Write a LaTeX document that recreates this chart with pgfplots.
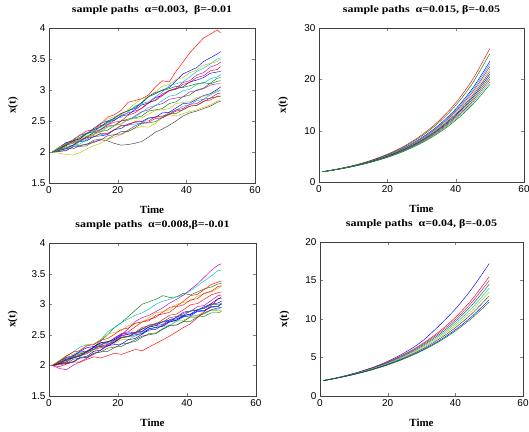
\documentclass[border=0pt]{standalone}
\usepackage{fontspec}
\setmainfont{Liberation Serif}
\newfontfamily\arialf{Liberation Sans}
\usepackage{graphicx}
\usepackage{pgfplots}
\usepackage{pgfplotstable}
\pgfplotsset{compat=1.18}
\definecolor{mb}{rgb}{0,0,1}
\definecolor{mg}{rgb}{0,0.5,0}
\definecolor{mr}{rgb}{1,0,0}
\definecolor{mc}{rgb}{0,0.75,0.75}
\definecolor{mm}{rgb}{0.75,0,0.75}
\definecolor{my}{rgb}{0.75,0.75,0}
\definecolor{mk}{rgb}{0.25,0.25,0.25}

\pgfplotstableread{
t A B C D E F G H I J K L M N O P Q R S
1 2.00 2.00 2.00 2.00 2.00 2.00 2.00 2.00 2.00 2.00 2.00 2.00 2.00 2.00 2.00 2.00 2.00 2.00 2.00
3 2.08 2.05 2.02 1.98 2.01 2.06 2.08 2.02 2.06 2.05 2.04 2.01 2.08 2.03 2.05 2.03 2.06 2.04 2.07
5 2.10 2.12 2.06 1.96 2.02 2.12 2.15 2.09 2.15 2.07 2.14 2.03 2.11 2.05 2.11 2.11 2.13 2.06 2.13
7 2.20 2.18 2.05 1.95 2.09 2.18 2.19 2.11 2.18 2.11 2.16 2.08 2.19 2.11 2.17 2.14 2.15 2.09 2.14
9 2.27 2.22 2.10 1.99 2.11 2.24 2.27 2.13 2.21 2.20 2.20 2.09 2.28 2.17 2.18 2.17 2.18 2.17 2.20
11 2.30 2.30 2.13 2.05 2.12 2.30 2.34 2.20 2.30 2.23 2.29 2.10 2.31 2.18 2.23 2.25 2.25 2.21 2.26
13 2.38 2.36 2.15 2.10 2.19 2.36 2.36 2.27 2.33 2.32 2.33 2.17 2.35 2.25 2.24 2.31 2.28 2.29 2.28
15 2.46 2.45 2.20 2.14 2.21 2.40 2.43 2.28 2.41 2.36 2.37 2.19 2.44 2.26 2.30 2.33 2.36 2.32 2.34
17 2.50 2.56 2.18 2.20 2.21 2.47 2.44 2.29 2.49 2.44 2.45 2.26 2.53 2.28 2.30 2.35 2.42 2.40 2.41
19 2.54 2.60 2.14 2.24 2.27 2.55 2.51 2.35 2.51 2.48 2.53 2.28 2.57 2.36 2.36 2.42 2.43 2.43 2.43
21 2.62 2.67 2.11 2.28 2.33 2.62 2.59 2.42 2.58 2.50 2.56 2.29 2.60 2.38 2.43 2.50 2.50 2.45 2.45
23 2.67 2.80 2.12 2.33 2.33 2.66 2.63 2.44 2.60 2.59 2.64 2.35 2.68 2.45 2.43 2.53 2.51 2.53 2.52
25 2.70 2.83 2.14 2.38 2.39 2.72 2.66 2.45 2.68 2.63 2.74 2.42 2.78 2.48 2.49 2.55 2.58 2.56 2.54
27 2.79 2.86 2.17 2.41 2.46 2.80 2.70 2.47 2.76 2.71 2.78 2.47 2.86 2.49 2.50 2.58 2.65 2.64 2.55
29 2.89 2.92 2.24 2.40 2.47 2.90 2.79 2.54 2.79 2.80 2.81 2.48 2.89 2.55 2.50 2.66 2.68 2.72 2.61
31 2.94 3.05 2.32 2.46 2.49 2.96 2.84 2.56 2.88 2.83 2.89 2.54 2.97 2.56 2.57 2.68 2.75 2.75 2.67
33 3.00 3.15 2.37 2.55 2.56 2.99 2.94 2.57 2.91 2.91 2.97 2.55 3.06 2.63 2.58 2.70 2.78 2.83 2.68
35 3.04 3.13 2.43 2.60 2.62 3.02 2.99 2.64 2.99 2.99 3.07 2.61 3.09 2.64 2.60 2.78 2.85 2.90 2.70
37 3.15 3.30 2.50 2.58 2.62 3.06 3.03 2.67 3.02 3.01 3.10 2.68 3.17 2.71 2.66 2.81 2.87 2.92 2.78
39 3.26 3.45 2.58 2.62 2.68 3.04 3.12 2.74 3.05 3.09 3.13 2.70 3.20 2.78 2.68 2.89 2.89 2.99 2.80
41 3.31 3.60 2.63 2.65 2.74 3.07 3.15 2.76 3.13 3.12 3.21 2.77 3.28 2.79 2.74 2.92 2.97 3.01 2.81
43 3.36 3.72 2.66 2.68 2.75 3.10 3.24 2.83 3.16 3.20 3.30 2.78 3.32 2.85 2.75 3.00 2.99 3.09 2.88
45 3.46 3.84 2.70 2.72 2.81 3.12 3.28 2.85 3.20 3.23 3.35 2.85 3.40 2.91 2.82 3.03 3.02 3.11 2.90
47 3.52 3.90 2.74 2.76 2.87 3.10 3.37 2.92 3.27 3.31 3.42 2.87 3.43 2.94 2.84 3.11 3.08 3.18 2.92
49 3.58 3.97 2.80 2.82 2.89 3.14 3.41 2.99 3.29 3.33 3.50 2.94 3.46 3.01 2.90 3.19 3.10 3.21 2.97
50 3.62 3.92 2.82 2.84 2.90 3.15 3.45 3.00 3.30 3.38 3.52 2.95 3.50 3.05 2.90 3.20 3.10 3.25 3.00
}\TL

\pgfplotstableread{
t a b c d e f g h i j k l m n T U V W
1 2.00 2.00 2.00 2.00 2.00 2.00 2.00 2.00 2.00 2.00 2.00 2.00 2.00 2.00 2.00 2.00 2.00 2.00
3 2.03 2.08 1.95 2.06 2.03 2.05 2.03 2.06 2.03 2.01 2.07 1.98 2.03 2.08 2.02 2.03 2.05 2.06
5 2.08 2.15 1.93 2.08 2.06 2.11 2.03 2.07 2.10 2.03 2.13 2.02 2.04 2.16 2.05 2.10 2.12 2.15
7 2.12 2.22 2.00 2.16 2.15 2.13 2.05 2.15 2.13 2.10 2.16 2.06 2.06 2.18 2.13 2.12 2.14 2.22
9 2.18 2.30 2.06 2.22 2.19 2.15 2.12 2.21 2.16 2.12 2.23 2.05 2.13 2.25 2.16 2.15 2.16 2.24
11 2.22 2.34 2.12 2.23 2.22 2.21 2.13 2.21 2.24 2.13 2.29 2.10 2.15 2.33 2.19 2.22 2.23 2.32
13 2.30 2.35 2.18 2.30 2.31 2.23 2.20 2.27 2.30 2.20 2.31 2.14 2.23 2.35 2.26 2.29 2.26 2.34
15 2.40 2.42 2.25 2.37 2.35 2.30 2.22 2.34 2.32 2.22 2.37 2.12 2.25 2.42 2.29 2.31 2.33 2.41
17 2.50 2.55 2.34 2.39 2.37 2.35 2.28 2.36 2.34 2.23 2.38 2.16 2.32 2.51 2.31 2.32 2.39 2.44
19 2.62 2.62 2.42 2.42 2.45 2.36 2.30 2.38 2.40 2.29 2.44 2.20 2.34 2.54 2.38 2.38 2.40 2.51
21 2.70 2.70 2.50 2.49 2.52 2.42 2.31 2.45 2.48 2.35 2.51 2.18 2.35 2.57 2.45 2.46 2.46 2.59
23 2.80 2.76 2.60 2.51 2.55 2.42 2.37 2.47 2.51 2.36 2.53 2.22 2.42 2.65 2.47 2.48 2.47 2.61
25 2.90 2.82 2.72 2.53 2.63 2.48 2.39 2.48 2.52 2.42 2.54 2.26 2.44 2.69 2.54 2.50 2.53 2.69
27 3.00 2.86 2.78 2.59 2.71 2.55 2.46 2.53 2.55 2.48 2.56 2.24 2.51 2.71 2.62 2.52 2.60 2.71
29 3.04 2.92 2.82 2.66 2.75 2.56 2.52 2.60 2.63 2.50 2.63 2.30 2.58 2.78 2.65 2.60 2.62 2.73
31 3.08 3.00 2.88 2.68 2.79 2.63 2.53 2.62 2.65 2.52 2.65 2.36 2.59 2.86 2.67 2.62 2.69 2.82
33 3.14 3.05 2.94 2.71 2.87 2.65 2.60 2.64 2.67 2.59 2.72 2.42 2.66 2.88 2.75 2.64 2.71 2.84
35 3.11 3.08 3.02 2.72 2.95 2.72 2.66 2.65 2.75 2.65 2.74 2.48 2.72 2.91 2.82 2.71 2.78 2.87
37 3.12 3.12 3.08 2.79 2.97 2.72 2.66 2.72 2.78 2.66 2.76 2.55 2.74 3.00 2.84 2.74 2.80 2.96
39 3.18 3.15 3.15 2.87 3.05 2.74 2.72 2.79 2.85 2.72 2.82 2.62 2.80 3.03 2.91 2.81 2.82 2.99
41 3.15 3.22 3.24 2.89 3.14 2.80 2.72 2.81 2.88 2.79 2.83 2.68 2.81 3.05 2.99 2.84 2.89 3.07
43 3.20 3.30 3.33 2.90 3.16 2.82 2.79 2.81 2.96 2.79 2.89 2.78 2.88 3.13 3.01 2.91 2.91 3.09
45 3.25 3.38 3.44 2.96 3.24 2.84 2.80 2.87 2.98 2.85 2.90 2.88 2.89 3.17 3.08 2.94 2.93 3.18
47 3.28 3.46 3.55 3.00 3.32 2.90 2.86 2.90 3.06 2.91 2.96 2.98 2.95 3.20 3.15 3.01 2.99 3.21
49 3.33 3.55 3.64 3.02 3.36 2.90 2.86 2.92 3.14 2.94 2.97 3.08 2.96 3.26 3.19 3.09 3.00 3.29
50 3.34 3.56 3.66 3.05 3.38 2.90 2.88 2.95 3.15 2.95 3.00 3.12 3.02 3.30 3.20 3.10 3.00 3.30
}\BL

\pgfplotstableread{
t p1 p2 p3 p4 p5 p6 p7 p8 p9 p10 p11 p12
1 2 2 2 2 2 2 2 2 2 2 2 2
5 2.47 2.46 2.45 2.44 2.44 2.43 2.43 2.42 2.42 2.41 2.41 2.40
10 3.20 3.18 3.14 3.13 3.12 3.11 3.09 3.08 3.07 3.05 3.04 3.02
15 4.16 4.12 4.04 4.02 3.99 3.97 3.94 3.92 3.89 3.86 3.83 3.81
20 5.41 5.33 5.20 5.16 5.11 5.07 5.02 4.98 4.93 4.88 4.84 4.79
25 7.02 6.89 6.69 6.62 6.54 6.47 6.40 6.33 6.25 6.18 6.10 6.02
30 9.13 8.92 8.60 8.49 8.38 8.27 8.16 8.04 7.93 7.81 7.70 7.58
35 11.86 11.54 11.05 10.89 10.73 10.56 10.39 10.22 10.05 9.88 9.71 9.54
40 15.40 14.93 14.21 13.97 13.73 13.49 13.24 13.00 12.75 12.50 12.25 12.00
45 20.01 19.32 18.28 17.93 17.58 17.23 16.87 16.52 16.17 15.81 15.46 15.10
50 26 25 23.5 23 22.5 22 21.5 21 20.5 20 19.5 19
}\TR

\pgfplotstableread{
t q1 q2 q3 q4 q5 q6 q7 q8 q9
1 2 2 2 2 2 2 2 2 2
5 2.37 2.36 2.36 2.35 2.34 2.34 2.33 2.32 2.32
10 2.93 2.91 2.90 2.88 2.86 2.84 2.82 2.80 2.79
15 3.62 3.59 3.56 3.52 3.49 3.45 3.41 3.38 3.35
20 4.50 4.42 4.37 4.31 4.25 4.19 4.13 4.07 4.03
25 5.62 5.45 5.37 5.28 5.19 5.10 5.00 4.91 4.85
30 7.05 6.72 6.59 6.46 6.33 6.19 6.05 5.92 5.83
35 9.05 8.28 8.10 7.91 7.72 7.52 7.33 7.13 7.01
40 11.30 10.21 9.94 9.68 9.41 9.14 8.87 8.60 8.44
45 14.00 12.58 12.21 11.85 11.48 11.11 10.74 10.37 10.15
50 17.2 15.5 15 14.5 14 13.5 13 12.5 12.2
}\BR

\newcommand{\ttl}[1]{\scalebox{1.2}[1]{#1}}

\pgfplotsset{
 mstyle/.style={
  scale only axis, anchor=south west,
  xmin=0, xmax=60, xtick={0,20,40,60},
  tick align=inside, major tick length=3bp,
  tick label style={font=\arialf\fontsize{10}{12}\selectfont},
  /pgf/number format/assume math mode=true,
  title style={font=\bfseries\fontsize{10}{12}\selectfont, at={(axis description cs:0.5,1)}, anchor=south, yshift=4bp},
  xlabel={Time}, ylabel={x(t)},
  xlabel style={font=\bfseries\fontsize{11}{13}\selectfont, at={(axis description cs:0.5,-0.174)}, anchor=center},
  ylabel style={font=\bfseries\fontsize{11}{13}\selectfont, at={(axis description cs:-0.175,0.5)}, anchor=center},
  every axis plot/.append style={line width=0.45bp},
  axis line style={black!75},
 }
}

\begin{document}
\begin{tikzpicture}
\path[use as bounding box] (0,0) rectangle (529bp,432bp);

% top left
\begin{axis}[mstyle, at={(49bp,249bp)}, width=206bp, height=155bp,
  ymin=1.5, ymax=4, ytick={1.5,2,2.5,3,3.5,4},
  title={\ttl{sample paths\ \ α=0.003,\ \ β=-0.01}}]
\addplot[mb] table[x=t,y=A]{\TL};
\addplot[mk] table[x=t,y=C]{\TL};
\addplot[my] table[x=t,y=D]{\TL};
\addplot[mg] table[x=t,y=E]{\TL};
\addplot[mr] table[x=t,y=B]{\TL};
\addplot[mm] table[x=t,y=G]{\TL};
\addplot[mc] table[x=t,y=H]{\TL};
\addplot[mb] table[x=t,y=I]{\TL};
\addplot[mr] table[x=t,y=J]{\TL};
\addplot[mc] table[x=t,y=K]{\TL};
\addplot[mm] table[x=t,y=L]{\TL};
\addplot[my] table[x=t,y=M]{\TL};
\addplot[mb] table[x=t,y=N]{\TL};
\addplot[mr] table[x=t,y=O]{\TL};
\addplot[mg] table[x=t,y=P]{\TL};
\addplot[mm] table[x=t,y=Q]{\TL};
\addplot[mc] table[x=t,y=R]{\TL};
\addplot[my] table[x=t,y=S]{\TL};
\addplot[mg] table[x=t,y=F]{\TL};
\end{axis}

% top right
\begin{axis}[mstyle, at={(319bp,250bp)}, width=205bp, height=154bp,
  ymin=0, ymax=30, ytick={0,10,20,30},
  title={\ttl{sample paths\ \ α=0.015, β=-0.05}}]
\addplot[mr, smooth] table[x=t,y=p1]{\TR};
\addplot[mg, smooth] table[x=t,y=p2]{\TR};
\addplot[mb, smooth] table[x=t,y=p3]{\TR};
\addplot[mc, smooth] table[x=t,y=p4]{\TR};
\addplot[mm, smooth] table[x=t,y=p5]{\TR};
\addplot[my, smooth] table[x=t,y=p6]{\TR};
\addplot[mk, smooth] table[x=t,y=p7]{\TR};
\addplot[mb, smooth] table[x=t,y=p8]{\TR};
\addplot[mg, smooth] table[x=t,y=p9]{\TR};
\addplot[mr, smooth] table[x=t,y=p10]{\TR};
\addplot[mc, smooth] table[x=t,y=p11]{\TR};
\addplot[mg, smooth] table[x=t,y=p12]{\TR};
\end{axis}

% bottom left
\begin{axis}[mstyle, at={(49bp,36bp)}, width=207bp, height=153bp,
  ymin=1.5, ymax=4, ytick={1.5,2,2.5,3,3.5,4},
  title={\ttl{sample paths\ \ α=0.008,β=-0.01}}]
\addplot[mg] table[x=t,y=a]{\BL};
\addplot[mc] table[x=t,y=b]{\BL};
\addplot[mm] table[x=t,y=c]{\BL};
\addplot[mb] table[x=t,y=d]{\BL};
\addplot[mr] table[x=t,y=e]{\BL};
\addplot[my] table[x=t,y=f]{\BL};
\addplot[mg] table[x=t,y=g]{\BL};
\addplot[mc] table[x=t,y=h]{\BL};
\addplot[mm] table[x=t,y=i]{\BL};
\addplot[mk] table[x=t,y=j]{\BL};
\addplot[mb] table[x=t,y=k]{\BL};
\addplot[mr] table[x=t,y=l]{\BL};
\addplot[mb] table[x=t,y=m]{\BL};
\addplot[my] table[x=t,y=n]{\BL};
\addplot[mr] table[x=t,y=T]{\BL};
\addplot[mb] table[x=t,y=U]{\BL};
\addplot[mg] table[x=t,y=V]{\BL};
\addplot[mr] table[x=t,y=W]{\BL};
\end{axis}

% bottom right
\begin{axis}[mstyle, at={(320bp,36bp)}, width=203bp, height=154bp,
  ymin=0, ymax=20, ytick={0,5,10,15,20},
  title={\ttl{sample paths\ \ α=0.04, β=-0.05}}]
\addplot[mb, smooth] table[x=t,y=q1]{\BR};
\addplot[mr, smooth] table[x=t,y=q2]{\BR};
\addplot[mm, smooth] table[x=t,y=q3]{\BR};
\addplot[mg, smooth] table[x=t,y=q4]{\BR};
\addplot[mc, smooth] table[x=t,y=q5]{\BR};
\addplot[my, smooth] table[x=t,y=q6]{\BR};
\addplot[mk, smooth] table[x=t,y=q7]{\BR};
\addplot[mb, smooth] table[x=t,y=q8]{\BR};
\addplot[mg, smooth] table[x=t,y=q9]{\BR};
\end{axis}
\end{tikzpicture}
\end{document}
